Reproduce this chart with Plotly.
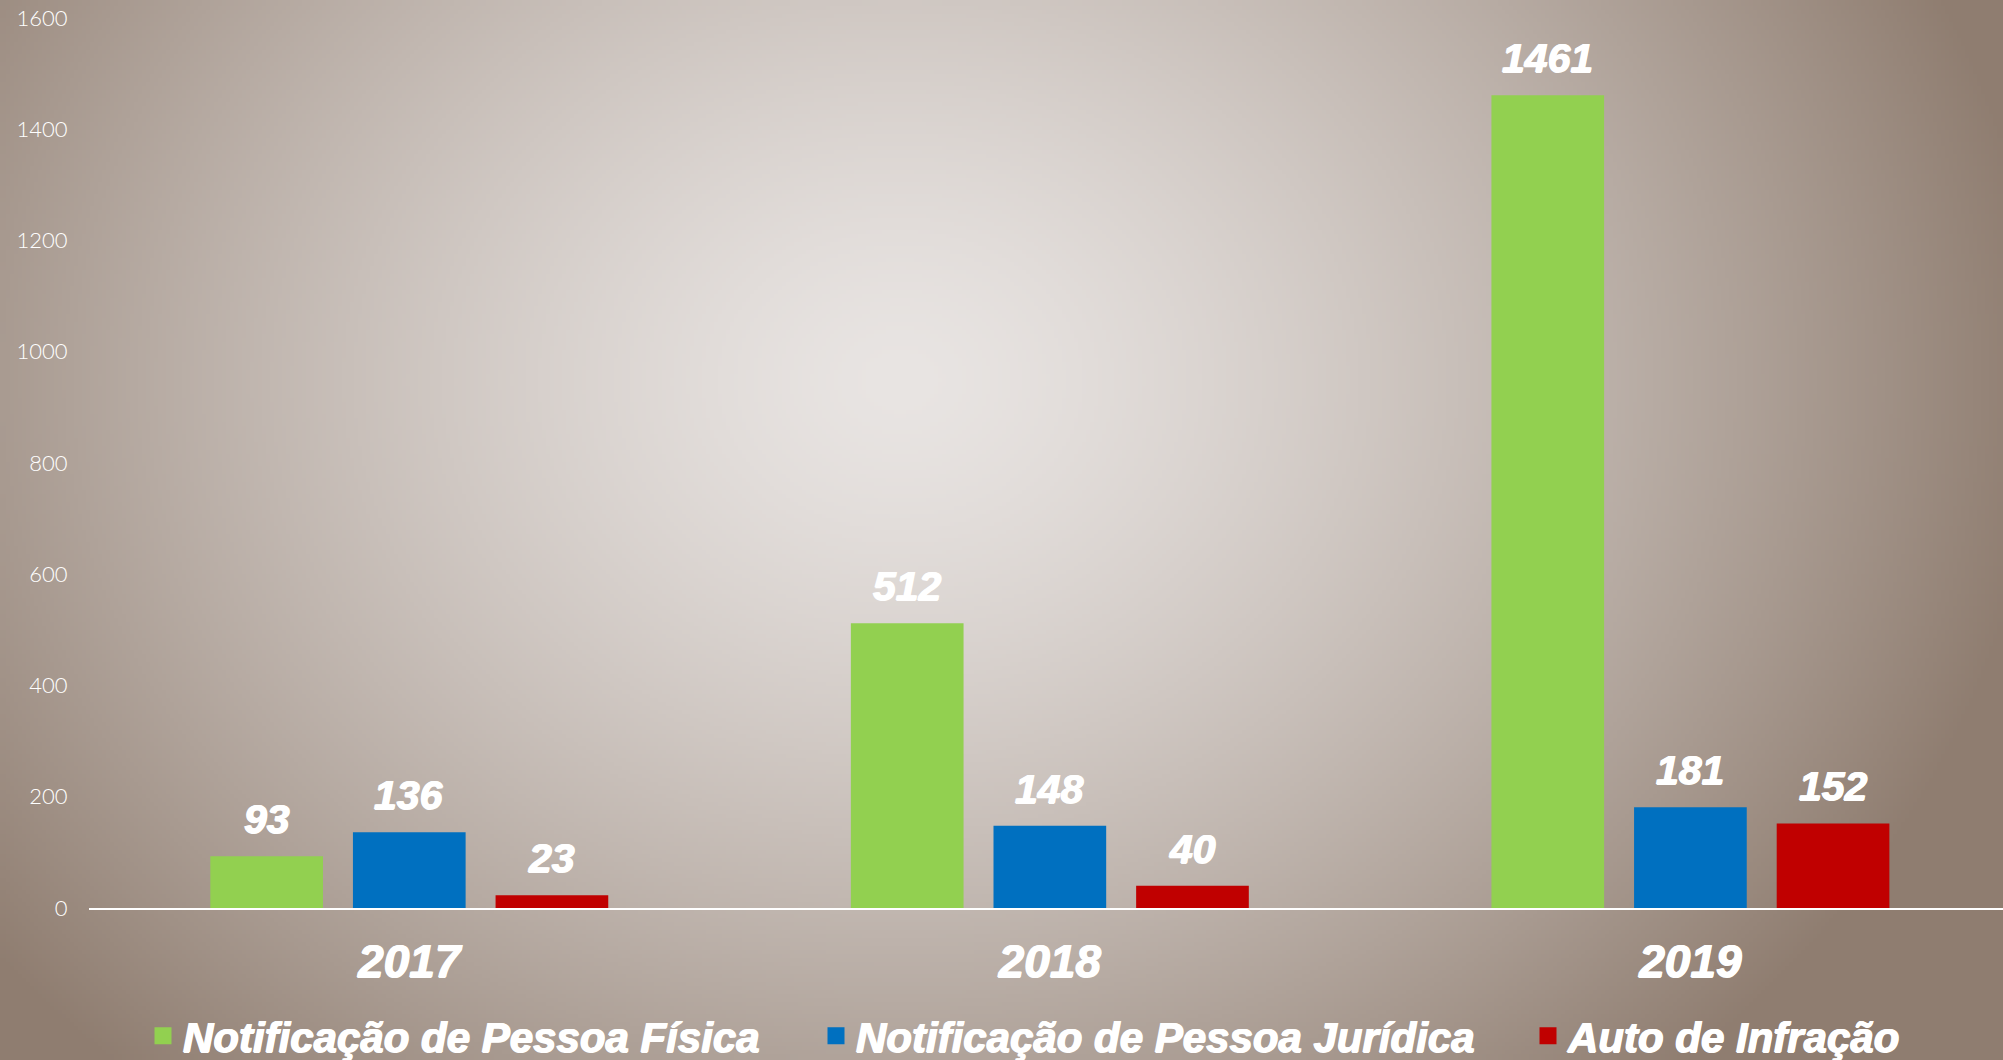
import base64
import struct
import zlib

import numpy as np
import plotly.graph_objects as go

# ---------------- data ----------------
years = ["2017", "2018", "2019"]
series_names = [
    "Notificação de Pessoa Física",
    "Notificação de Pessoa Jurídica",
    "Auto de Infração",
]
pessoa_fisica = [93, 512, 1461]
pessoa_juridica = [136, 148, 181]
auto_infracao = [23, 40, 152]
y_tick_values = [0, 200, 400, 600, 800, 1000, 1200, 1400, 1600]
y_tick_labels = ["0", "200", "400", "600", "800", "1000", "1200", "1400", "1600"]

series_values = [pessoa_fisica, pessoa_juridica, auto_infracao]
series_colors = ["#92d050", "#0070c0", "#c00000"]

# ---------------- layout geometry ----------------
W, H = 2003, 1060
ML, MR, MT, MB = 89, 0, 18, 152
PW, PH = W - ML - MR, H - MT - MB
X_RANGE = [-0.5, 2.488]
BARGAP = 0.332
BARGROUPGAP = 0.21
cat_px = PW / (X_RANGE[1] - X_RANGE[0])
slot_px = cat_px * (1 - BARGAP) / 3


# ---------------- background gradient image ----------------
def gradient_png(w, h):
    xs = np.linspace(0, W, w)
    ys = np.linspace(0, H, h)
    X, Y = np.meshgrid(xs, ys)
    cx, cy, rx, ry = 900.0, 380.0, 1150.0, 950.0
    t = np.sqrt(((X - cx) / rx) ** 2 + ((Y - cy) / ry) ** 2)
    t = np.clip(t, 0, 1) ** 1.4
    c0 = np.array([233, 229, 227], dtype=float)
    c1 = np.array([143, 125, 112], dtype=float)
    img = c0[None, None, :] + (c1 - c0)[None, None, :] * t[:, :, None]
    img = np.clip(img, 0, 255).astype(np.uint8)
    raw = b"".join(b"\x00" + img[r].tobytes() for r in range(h))

    def chunk(kind, data):
        return (struct.pack(">I", len(data)) + kind + data
                + struct.pack(">I", zlib.crc32(kind + data) & 0xFFFFFFFF))

    png = b"\x89PNG\r\n\x1a\n"
    png += chunk(b"IHDR", struct.pack(">IIBBBBB", w, h, 8, 2, 0, 0, 0))
    png += chunk(b"IDAT", zlib.compress(raw, 9))
    png += chunk(b"IEND", b"")
    return "data:image/png;base64," + base64.b64encode(png).decode()


bg_src = gradient_png(501, 265)

BOLD_FONT = "Liberation Sans, Arial, sans-serif"
THICK = "0.7px 0px 0px white, -0.7px 0px 0px white, 0px 0.6px 0px white"

fig = go.Figure()
legend_ids = ["legend", "legend2", "legend3"]
for k, (name, vals, col, lid) in enumerate(
        zip(series_names, series_values, series_colors, legend_ids)):
    # real bars
    fig.add_trace(go.Bar(
        x=years, y=vals, name=name,
        marker=dict(color=col, line=dict(width=0)),
        offsetgroup=str(k), showlegend=False,
        hoverinfo="x+y+name",
    ))
    # legend-only entry (empty, shares the bar slot) with a larger swatch
    fig.add_trace(go.Bar(
        x=years, y=[None] * len(years), name=name,
        marker=dict(color=col, line=dict(width=5, color=col)),
        offsetgroup=str(k), legend=lid, showlegend=True,
        hoverinfo="skip",
    ))

# value labels above bars (x given as category index on the category axis)
annotations = []
for i, vals in enumerate(series_values):
    for j, v in enumerate(vals):
        annotations.append(dict(
            x=j, y=v, xref="x", yref="y", text=str(v), showarrow=False,
            xanchor="center", yanchor="bottom",
            xshift=(i - 1) * slot_px, yshift=12,
            font=dict(family=BOLD_FONT, size=41, color="white",
                      weight="bold", style="italic", shadow=THICK),
        ))

legend_common = dict(
    orientation="h", yanchor="middle", y=1 - (1036 - MT) / PH, xanchor="left",
    bgcolor="rgba(0,0,0,0)", borderwidth=0,
    font=dict(family=BOLD_FONT, size=42, color="white",
              weight="bold", style="italic", shadow=THICK),
)
legend_starts = [143, 816, 1528]
leg_layouts = {}
for lid, px in zip(legend_ids, legend_starts):
    d = dict(legend_common)
    d["x"] = (px - ML) / PW
    leg_layouts[lid] = d

fig.update_layout(
    width=W, height=H,
    margin=dict(l=ML, r=MR, t=MT, b=MB, pad=0, autoexpand=False),
    paper_bgcolor="#9c8b80",
    plot_bgcolor="rgba(0,0,0,0)",
    barmode="group", bargap=BARGAP, bargroupgap=BARGROUPGAP,
    showlegend=True,
    annotations=annotations,
    images=[dict(
        source=bg_src, xref="paper", yref="paper",
        x=-ML / PW, y=1 + MT / PH, sizex=W / PW, sizey=H / PH,
        xanchor="left", yanchor="top", sizing="stretch", layer="below",
    )],
    xaxis=dict(
        type="category", categoryorder="array", categoryarray=years,
        range=X_RANGE, autorange=False,
        showline=True, linecolor="white", linewidth=2,
        showgrid=False, zeroline=False,
        ticks="outside", ticklen=12, tickcolor="rgba(0,0,0,0)",
        tickfont=dict(family=BOLD_FONT, size=46, color="white",
                      weight="bold", style="italic", shadow=THICK),
    ),
    yaxis=dict(
        range=[0, 1600], autorange=False,
        showline=False, showgrid=False, zeroline=False,
        tickmode="array", tickvals=y_tick_values, ticktext=y_tick_labels,
        ticks="outside", ticklen=16, tickcolor="rgba(0,0,0,0)",
        tickfont=dict(family="Lato, Open Sans, sans-serif", size=22,
                      color="white", weight=300),
    ),
    **leg_layouts,
)

fig.write_html(
    "out.html",
    config={"displayModeBar": False},
    post_script=(
        "document.documentElement.style.margin='0';"
        "document.documentElement.style.overflow='hidden';"
        "document.body.style.margin='0';"
        "document.body.style.overflow='hidden';"
    ),
)
